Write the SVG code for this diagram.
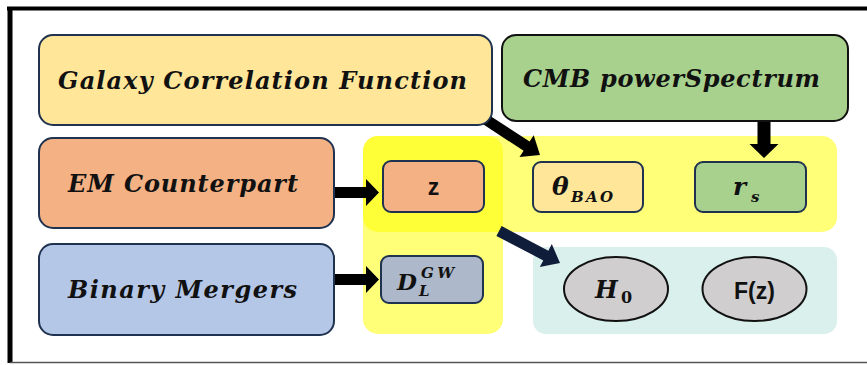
<svg xmlns="http://www.w3.org/2000/svg" width="867" height="365" viewBox="0 0 867 365">
<style>
.big{font-family:"DejaVu Serif","Liberation Serif",serif;font-weight:bold;font-style:italic;font-size:24px;fill:#111}
.m{font-family:"DejaVu Serif","Liberation Serif",serif;font-weight:bold;font-style:italic;fill:#111}
.s{font-family:"Liberation Sans","Open Sans",sans-serif;font-weight:bold;font-size:23px;fill:#111}
.box{stroke:#1f3350;stroke-width:2}
.ell{fill:#d0cece;stroke:#111;stroke-width:2}
.yel{fill:#ffff00;fill-opacity:0.53}
.arr{fill:#000}
</style>
<rect x="0" y="0" width="867" height="365" fill="#fff"/>
<g id="frame">
<line x1="7" y1="8.5" x2="867" y2="8.5" stroke="#000" stroke-width="4"/>
<line x1="10" y1="7" x2="10" y2="363" stroke="#000" stroke-width="5"/>
<line x1="10" y1="362.5" x2="867" y2="362.5" stroke="#555" stroke-width="1.5"/>
</g>
<g id="regions">
<rect class="yel" x="363" y="136" width="474" height="96" rx="15"/>
<rect class="yel" x="363" y="136" width="140" height="198" rx="15"/>
<rect x="533" y="247" width="304" height="87" rx="13" fill="#d9f0ec"/>
</g>
<g id="connectors">
<polygon class="arr" points="482,123.6 523.6,150.8 519.5,157.1 540,155 533.7,135.3 529.6,141.6 488,114.4"/>
<polygon class="arr" points="757.5,118 770.5,118 770.5,144 778.5,144 764,158 749.5,144 757.5,144"/>
<polygon class="arr" points="330,187 366,187 366,179 379,192.5 366,206 366,198 330,198"/>
<polygon class="arr" points="330,274 366,274 366,266 379,279.5 366,293 366,285 330,285"/>
<polygon fill="#0f1c3a" points="496.4,235.9 543.3,260.4 539.8,267.1 560,263 551.8,244.1 548.4,250.7 501.6,226.1"/>
</g>
<g id="galaxy">
<rect class="box" x="39" y="35" width="453" height="90" rx="14" fill="#ffe699"/>
<text class="big" x="58" y="89" textLength="409" lengthAdjust="spacing">Galaxy Correlation Function</text>
</g>
<g id="cmb">
<rect x="502" y="35" width="346" height="86" rx="14" fill="#a9d18e" stroke="#111" stroke-width="2"/>
<text class="big" x="523" y="87" textLength="297" lengthAdjust="spacing">CMB powerSpectrum</text>
</g>
<g id="em">
<rect class="box" x="39" y="138" width="295" height="90" rx="14" fill="#f4b183"/>
<text class="big" x="68" y="192" textLength="230" lengthAdjust="spacing">EM Counterpart</text>
</g>
<g id="binary">
<rect class="box" x="39" y="244" width="295" height="91" rx="14" fill="#b4c7e7"/>
<text class="big" x="68" y="298" textLength="229" lengthAdjust="spacing">Binary Mergers</text>
</g>
<g id="z">
<rect class="box" x="383" y="161" width="101" height="51" rx="8" fill="#f4b183"/>
<text class="s" x="433.5" y="195" text-anchor="middle">z</text>
</g>
<g id="dl">
<rect class="box" x="381" y="256" width="102" height="47" rx="8" fill="#adb9ca"/>
<text class="m" x="397" y="290" font-size="23">D</text>
<text class="m" x="421" y="278" font-size="15" textLength="33" lengthAdjust="spacing">GW</text>
<text class="m" x="419" y="296" font-size="15">L</text>
</g>
<g id="theta">
<rect class="box" x="533" y="162" width="110" height="50" rx="8" fill="#ffe699"/>
<text class="m" x="552" y="195" font-size="25">θ</text>
<text class="m" x="571" y="202" font-size="15" textLength="42" lengthAdjust="spacing">BAO</text>
</g>
<g id="rs">
<rect class="box" x="695" y="162" width="111" height="50" rx="8" fill="#a9d18e"/>
<text class="m" x="733" y="195" font-size="25">r</text>
<text class="m" x="751" y="202" font-size="15">s</text>
</g>
<g id="h0">
<ellipse class="ell" cx="616" cy="289" rx="52" ry="32"/>
<text class="m" x="595" y="298" font-size="24">H</text>
<text x="621" y="303" font-family="DejaVu Serif, serif" font-weight="bold" font-size="16" fill="#111">0</text>
</g>
<g id="fz">
<ellipse class="ell" cx="754.5" cy="289" rx="52" ry="32"/>
<text class="s" x="754.5" y="299" text-anchor="middle">F(z)</text>
</g>
</svg>
